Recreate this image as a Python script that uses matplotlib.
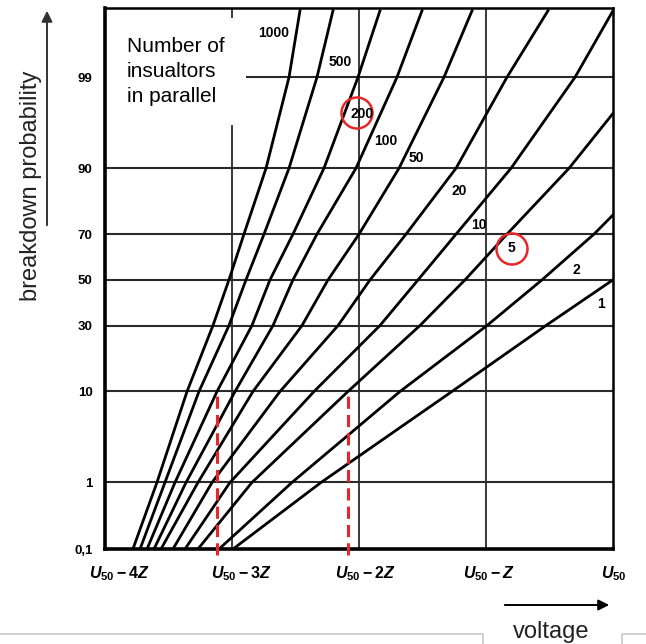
import numpy as np
import matplotlib
matplotlib.use("Agg")
import matplotlib.pyplot as plt
from matplotlib.patches import Circle
from matplotlib.lines import Line2D
from matplotlib.transforms import blended_transform_factory, offset_copy
from statistics import NormalDist

# ---------------- data (voltage in units of Z relative to U50, probability in %) ----------
prob_levels = [0.1, 1, 10, 30, 50, 70, 90, 99, 99.9]

v_1000 = [-3.78, -3.591, -3.354, -3.15, -3.024, -2.906, -2.732, -2.551, -2.465]
v_500 = [-3.724, -3.528, -3.26, -3.024, -2.89, -2.748, -2.551, -2.331, -2.205]
v_200 = [-3.669, -3.449, -3.118, -2.843, -2.701, -2.52, -2.276, -2.008, -1.835]
v_100 = [-3.614, -3.362, -2.976, -2.677, -2.52, -2.331, -2.024, -1.701, -1.504]
v_50 = [-3.559, -3.268, -2.835, -2.449, -2.244, -2.0, -1.685, -1.331, -1.11]
v_20 = [-3.465, -3.157, -2.622, -2.165, -1.913, -1.63, -1.236, -0.835, -0.512]
v_10 = [-3.37, -3.016, -2.354, -1.835, -1.535, -1.236, -0.803, -0.299, 0.0]

p_5 = [0.1, 1, 10, 30, 50, 70, 90, 97.2]
v_5 = [-3.268, -2.843, -2.087, -1.52, -1.165, -0.835, -0.346, 0.0]
p_2 = [0.1, 1, 10, 30, 50, 70, 77.2]
v_2 = [-3.102, -2.528, -1.677, -0.992, -0.559, -0.15, 0.0]
p_1 = [0.1, 1, 10, 30, 50]
v_1 = [-2.992, -2.299, -1.268, -0.528, 0.0]

curve_names = ["1000", "500", "200", "100", "50", "20", "10", "5", "2", "1"]
curve_v = [v_1000, v_500, v_200, v_100, v_50, v_20, v_10, v_5, v_2, v_1]
curve_p = [prob_levels] * 7 + [p_5, p_2, p_1]

ytick_vals = [0.1, 1, 10, 30, 50, 70, 90, 99]
ytick_labels = ["0,1", "1", "10", "30", "50", "70", "90", "99"]
xtick_vals = [-4, -3, -2, -1, 0]
xtick_labels = [r"$U_{\mathrm{50}}-4Z$", r"$U_{\mathrm{50}}-3Z$", r"$U_{\mathrm{50}}-2Z$",
                r"$U_{\mathrm{50}}-Z$", r"$U_{\mathrm{50}}$"]
box_lines = ["Number of", "insualtors", "in parallel"]

# ---------------- style ----------------
plt.rcParams["font.family"] = ["Liberation Sans", "DejaVu Sans"]
plt.rcParams["mathtext.fontset"] = "custom"
plt.rcParams["mathtext.rm"] = "Liberation Sans:bold"
plt.rcParams["mathtext.it"] = "Liberation Sans:italic:bold"
plt.rcParams["mathtext.bf"] = "Liberation Sans:bold"

W, H = 646, 644
fig = plt.figure(figsize=(W / 100, H / 100), dpi=100)
fig.patch.set_facecolor("white")

AX_L, AX_R, AX_B, AX_T = 105, 613, 549, 8
ax = fig.add_axes([AX_L / W, 1 - AX_B / H, (AX_R - AX_L) / W, (AX_B - AX_T) / H])

ND = NormalDist()


def fwd(p):
    p = np.asarray(p, dtype=float)
    res = np.full(p.size, np.nan)
    for i, v in enumerate(p.ravel()):
        if np.isfinite(v):
            q = min(max(v / 100.0, 1e-12), 1 - 1e-12)
            res[i] = ND.inv_cdf(q)
    return res.reshape(p.shape)


def inv(z):
    z = np.asarray(z, dtype=float)
    res = np.full(z.size, np.nan)
    for i, v in enumerate(z.ravel()):
        if np.isfinite(v):
            res[i] = ND.cdf(v) * 100.0
    return res.reshape(z.shape)


ax.set_yscale("function", functions=(fwd, inv))
ax.set_xlim(-4, 0)
ax.set_ylim(0.1, 99.91)

grid_c = "#2a2a2a"
for lv in [1, 10, 30, 50, 70, 90]:
    ax.axhline(lv, color=grid_c, lw=1.5, zorder=1)
ax.hlines(99, -2.89, 0, color=grid_c, lw=1.5, zorder=1)
for xv in [-2, -1]:
    ax.axvline(xv, color=grid_c, lw=1.3, zorder=1)
ax.vlines(-3, 0.1, 96.2, color=grid_c, lw=1.3, zorder=1)
ax.vlines(-3, 99.87, 99.91, color=grid_c, lw=1.3, zorder=1)

for v, p in zip(curve_v, curve_p):
    ax.plot(v, p, color="black", lw=2.0, zorder=3, solid_joinstyle="round")

# red dashed markers at 10 % for the 200 and 5 curves
red = "#e8262a"
for v in [v_200[2], v_5[2]]:
    ax.plot([v, v], [0.079, 10], color=red, lw=2.2, dashes=(4, 2), zorder=4, clip_on=False)

for sp in ["left", "bottom"]:
    ax.spines[sp].set_linewidth(2.6)
for sp in ["top", "right"]:
    ax.spines[sp].set_linewidth(1.8)

ax.set_yticks(ytick_vals)
ax.set_yticklabels(ytick_labels, fontsize=9.5, fontweight="bold")
ax.yaxis.set_minor_locator(matplotlib.ticker.NullLocator())
ax.tick_params(axis="y", length=0, pad=9)
ax.set_xticks([])

tr = blended_transform_factory(ax.transData, ax.transAxes)
x_shift = [14, 9, 6, 3, 1]
for xv, lab, dx in zip(xtick_vals, xtick_labels, x_shift):
    t = offset_copy(tr, fig=fig, x=dx, y=-29, units="dots")
    ax.text(xv, 0, lab, transform=t, ha="center", va="baseline", fontsize=11.5, clip_on=False)

# curve labels (figure pixel positions)
label_pos = {"1000": (274, 33), "500": (340, 62), "200": (362, 114), "100": (386, 141),
             "50": (416, 158), "20": (459, 191), "10": (479, 225), "5": (511, 248),
             "2": (576, 270), "1": (601, 304)}
for name in curve_names:
    px, py = label_pos[name]
    fig.text(px / W, 1 - py / H, name, ha="center", va="center", fontsize=10, fontweight="bold")

for cx, cy in [(357, 113), (512, 249)]:
    fig.add_artist(Circle((cx / 100, (H - cy) / 100), 0.155, transform=fig.dpi_scale_trans,
                          fill=False, edgecolor=red, lw=1.8))

# text box
for i, line in enumerate(box_lines):
    fig.text(127 / W, 1 - (52 + 25 * i) / H, line, ha="left", va="baseline", fontsize=15)

# axis titles and arrows
fig.text(31 / W, 1 - 186 / H, "breakdown probability", rotation=90, ha="center", va="center",
         fontsize=17, color="#222222")
ax.annotate("", xy=(47, H - 8), xytext=(47, H - 228), xycoords="figure pixels",
            textcoords="figure pixels",
            arrowprops=dict(arrowstyle="-|>", lw=1.4, color="#333333", mutation_scale=16))
ax.annotate("", xy=(612, H - 605), xytext=(502, H - 605), xycoords="figure pixels",
            textcoords="figure pixels",
            arrowprops=dict(arrowstyle="-|>", lw=1.4, color="black", mutation_scale=16))
fig.text(551 / W, 1 - 638 / H, "voltage", ha="center", va="baseline", fontsize=17, color="#222222")

# faint slide boxes at the bottom
gray = "#c8c8c8"
for xs, ys in [([0, 483, 483], [H - 634, H - 634, 0]), ([646, 622, 622], [H - 634, H - 634, 0])]:
    fig.add_artist(Line2D(np.array(xs) / W, np.array(ys) / H, transform=fig.transFigure,
                          color=gray, lw=1.2))

fig.savefig("out.png", dpi=100, facecolor="white")
